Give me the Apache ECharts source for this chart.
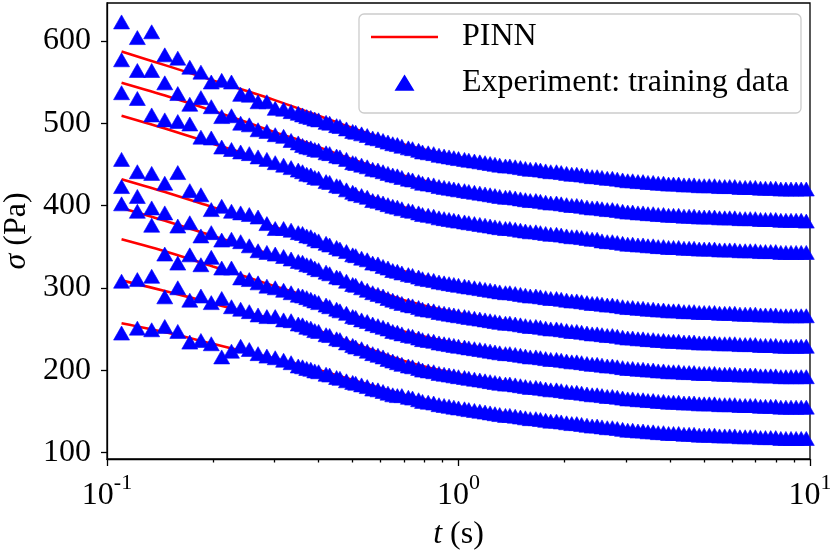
<!DOCTYPE html>
<html>
<head>
<meta charset="utf-8">
<title>PINN stress relaxation</title>
<script src="https://cdn.jsdelivr.net/npm/echarts@6/dist/echarts.min.js"></script>
<style>
  html, body { margin: 0; padding: 0; background: #fff; }
  #chart { width: 830px; height: 553px; }
</style>
</head>
<body>
<div id="chart"></div>
<script>
// measurement times (s)
const tExp = [0.11, 0.122, 0.134, 0.146, 0.159, 0.172, 0.185, 0.198, 0.212, 0.226, 0.24, 0.254, 0.269, 0.285, 0.301, 0.318, 0.334, 0.35,
  0.36, 0.37, 0.38, 0.39, 0.40, 0.42, 0.43, 0.45, 0.46, 0.48,
  0.50, 0.51, 0.53, 0.55, 0.57, 0.59, 0.61, 0.63, 0.65, 0.67,
  0.69, 0.72, 0.74, 0.77, 0.79, 0.82, 0.85, 0.88, 0.91, 0.94,
  0.97, 1.0, 1.04, 1.07, 1.11, 1.15, 1.19, 1.23, 1.27, 1.31,
  1.36, 1.4, 1.45, 1.5, 1.55, 1.6, 1.66, 1.71, 1.77, 1.83,
  1.9, 1.96, 2.03, 2.1, 2.17, 2.24, 2.32, 2.4, 2.48, 2.56,
  2.65, 2.74, 2.83, 2.93, 3.03, 3.13, 3.24, 3.35, 3.46, 3.58,
  3.7, 3.83, 3.96, 4.09, 4.23, 4.38, 4.53, 4.68, 4.84, 5.0,
  5.17, 5.35, 5.53, 5.72, 5.91, 6.11, 6.32, 6.54, 6.76, 6.99,
  7.23, 7.47, 7.73, 7.99, 8.26, 8.54, 8.83, 9.13, 9.44, 9.76];

// measured stress (Pa), one array per test
const exp1 = [623, 604, 611, 583, 579, 568, 562, 550, 552, 550, 535, 534, 526, 526, 518, 517, 514, 512,
  510, 508, 507, 505, 504, 501, 500, 497, 496, 493, 490, 489, 487, 485, 482, 481, 479, 477, 475, 474,
  472, 470, 469, 467, 465, 464, 463, 461, 460, 459, 458, 457, 456, 455, 454, 453, 452, 451, 450, 449,
  448, 448, 447, 446, 445, 444, 444, 443, 442, 441, 441, 440, 439, 438, 438, 437, 436, 435, 435, 434,
  433, 433, 432, 431, 430, 430, 429, 429, 428, 428, 427, 427, 426, 426, 426, 425, 425, 425, 424, 424,
  424, 424, 423, 423, 423, 423, 422, 422, 422, 422, 421, 421, 421, 421, 420, 420, 420, 420, 420, 420];
const exp2 = [577, 564, 564, 549, 536, 523, 531, 520, 508, 509, 500, 498, 492, 490, 486, 484, 479, 476,
  473, 471, 470, 468, 467, 464, 463, 460, 459, 456, 452, 451, 449, 447, 444, 443, 441, 439, 437, 436,
  434, 432, 431, 429, 427, 426, 425, 423, 422, 421, 420, 419, 418, 417, 416, 415, 414, 413, 412, 411,
  410, 410, 409, 408, 407, 406, 406, 405, 404, 403, 403, 402, 401, 400, 400, 399, 398, 397, 397, 396,
  395, 395, 394, 393, 392, 392, 391, 391, 390, 390, 389, 389, 388, 388, 388, 387, 387, 387, 386, 386,
  386, 386, 385, 385, 385, 385, 384, 384, 384, 384, 383, 383, 383, 383, 382, 382, 382, 382, 382, 381];
const exp3 = [537, 530, 510, 504, 502, 499, 483, 482, 471, 468, 465, 463, 459, 456, 452, 449, 446, 443,
  441, 438, 437, 434, 433, 429, 428, 424, 423, 419, 416, 414, 412, 410, 406, 405, 403, 401, 399, 398,
  396, 394, 393, 391, 389, 388, 387, 385, 384, 383, 382, 381, 380, 379, 378, 377, 376, 375, 374, 373,
  372, 372, 371, 370, 369, 368, 368, 367, 366, 365, 365, 364, 363, 362, 362, 361, 360, 359, 359, 357,
  356, 356, 355, 354, 353, 353, 352, 352, 351, 351, 350, 350, 349, 349, 349, 348, 348, 348, 347, 347,
  347, 347, 346, 346, 346, 346, 345, 345, 345, 345, 344, 344, 344, 344, 343, 343, 343, 343, 343, 343];
const exp4 = [456, 441, 439, 427, 440, 418, 413, 395, 399, 393, 391, 389, 386, 378, 372, 372, 370, 367,
  366, 363, 362, 359, 357, 354, 352, 349, 347, 344, 340, 339, 336, 334, 330, 329, 326, 324, 321, 320,
  318, 316, 315, 313, 311, 310, 309, 307, 306, 305, 304, 303, 302, 301, 300, 299, 298, 297, 296, 295,
  294, 294, 293, 292, 291, 290, 290, 289, 288, 287, 287, 286, 285, 284, 284, 283, 282, 281, 281, 280,
  279, 279, 278, 277, 276, 276, 275, 275, 274, 274, 273, 273, 272, 272, 272, 271, 271, 271, 270, 270,
  270, 270, 269, 269, 269, 269, 268, 268, 268, 268, 267, 267, 267, 267, 266, 266, 266, 266, 266, 266];
const exp5 = [423, 411, 397, 391, 375, 379, 363, 367, 358, 359, 356, 351, 345, 343, 341, 338, 335, 332,
  331, 328, 327, 324, 322, 319, 317, 313, 312, 308, 304, 303, 300, 297, 294, 292, 290, 287, 285, 283,
  281, 279, 278, 276, 274, 273, 272, 270, 269, 268, 267, 266, 265, 264, 263, 262, 261, 260, 259, 258,
  257, 257, 256, 255, 254, 253, 253, 252, 251, 250, 250, 249, 248, 247, 247, 246, 245, 244, 244, 243,
  242, 242, 241, 240, 239, 239, 238, 238, 237, 237, 236, 236, 235, 235, 235, 234, 234, 234, 233, 233,
  233, 233, 232, 232, 232, 232, 231, 231, 231, 231, 230, 230, 230, 230, 229, 229, 229, 229, 229, 229];
const exp6 = [402, 393, 376, 341, 330, 340, 328, 337, 324, 324, 312, 310, 306, 302, 300, 297, 294, 291,
  290, 288, 286, 284, 282, 279, 277, 274, 272, 269, 265, 264, 261, 259, 256, 254, 252, 250, 247, 246,
  244, 242, 241, 239, 237, 236, 235, 233, 232, 231, 230, 229, 228, 227, 226, 225, 224, 223, 222, 221,
  220, 220, 219, 218, 217, 216, 216, 215, 214, 213, 213, 212, 211, 210, 210, 209, 208, 207, 207, 206,
  205, 205, 204, 203, 202, 202, 201, 201, 200, 200, 199, 199, 198, 198, 198, 197, 197, 197, 196, 196,
  196, 196, 195, 195, 195, 195, 194, 194, 194, 194, 193, 193, 193, 193, 192, 192, 192, 192, 192, 192];
const exp7 = [308, 310, 314, 289, 300, 285, 290, 282, 287, 277, 274, 271, 267, 265, 265, 261, 260, 256,
  255, 252, 251, 248, 247, 243, 242, 238, 237, 233, 230, 228, 226, 223, 220, 218, 216, 213, 211, 209,
  207, 205, 204, 202, 200, 199, 198, 196, 195, 194, 193, 192, 191, 190, 189, 188, 187, 186, 185, 184,
  183, 183, 182, 181, 180, 179, 179, 178, 177, 176, 176, 175, 174, 173, 173, 172, 171, 170, 170, 169,
  168, 168, 167, 166, 165, 165, 164, 164, 163, 163, 162, 162, 161, 161, 161, 160, 160, 160, 159, 159,
  159, 159, 158, 158, 158, 158, 157, 157, 157, 157, 156, 156, 156, 156, 155, 155, 155, 155, 155, 155];
const exp8 = [245, 251, 249, 253, 247, 234, 236, 232, 216, 223, 229, 225, 220, 217, 215, 212, 209, 205,
  204, 202, 201, 199, 198, 195, 194, 191, 190, 187, 185, 184, 182, 180, 177, 176, 174, 172, 170, 169,
  169, 167, 166, 164, 162, 161, 160, 158, 157, 156, 155, 154, 153, 152, 151, 150, 149, 148, 147, 146,
  145, 145, 144, 143, 142, 141, 141, 140, 139, 138, 138, 137, 136, 135, 135, 134, 133, 132, 132, 131,
  130, 130, 129, 128, 127, 127, 126, 126, 125, 125, 124, 124, 123, 123, 123, 122, 122, 122, 121, 121,
  121, 121, 120, 120, 120, 120, 119, 119, 119, 119, 118, 118, 118, 118, 117, 117, 117, 117, 117, 117];

// PINN prediction
const tModel = [0.11, 0.15, 0.2, 0.25, 0.3, 0.35, 0.5, 0.7, 1, 1.5, 2, 3, 5, 7, 10];
const pinn1 = [587, 569, 552, 539, 528, 518, 494, 474, 459, 447, 440, 431, 425, 422, 420];
const pinn2 = [549, 532, 515, 501, 489, 480, 456, 436, 421, 409, 402, 393, 387, 384, 382];
const pinn3 = [509, 492, 475, 462, 450, 441, 418, 398, 382, 370, 363, 354, 348, 345, 343];
const pinn4 = [432, 415, 398, 385, 374, 365, 342, 320, 305, 293, 286, 277, 271, 268, 266];
const pinn5 = [397, 380, 363, 350, 339, 330, 306, 285, 269, 257, 250, 241, 235, 231, 229];
const pinn6 = [359, 343, 326, 313, 302, 293, 267, 247, 232, 220, 213, 204, 198, 195, 192];
const pinn7 = [309, 295, 281, 270, 262, 256, 233, 211, 195, 183, 176, 167, 161, 158, 155];
const pinn8 = [257, 245, 232, 222, 214, 207, 188, 170, 156, 145, 138, 129, 123, 120, 117];

// axis ticks
const xMinor = [0.2, 0.3, 0.4, 0.5, 0.6, 0.7, 0.8, 0.9, 2, 3, 4, 5, 6, 7, 8, 9];
const yTicks = [100, 200, 300, 400, 500, 600];

const font = 'Liberation Serif';
const chart = echarts.init(document.getElementById('chart'));

const series = [];
[pinn1, pinn2, pinn3, pinn4, pinn5, pinn6, pinn7, pinn8].forEach(vals => {
    series.push({
        name: 'PINN',
        type: 'line',
        data: tModel.map((t, i) => [t, vals[i]]),
        symbol: 'none',
        smooth: 0.3,
        lineStyle: { color: '#ff0000', width: 2.6 },
        itemStyle: { color: '#ff0000' },
        z: 2
    });
});
[exp1, exp2, exp3, exp4, exp5, exp6, exp7, exp8].forEach(vals => {
    series.push({
        name: 'Experiment: training data',
        type: 'scatter',
        data: tExp.map((t, i) => [t, vals[i]]),
        symbol: 'triangle',
        symbolSize: [16, 14],
        itemStyle: { color: '#0000ff', opacity: 1, borderColor: '#0000ff', borderWidth: 0.6 },
        z: 3
    });
});

const tickLine = { color: '#000', width: 1.3 };

chart.setOption({
    animation: false,
    textStyle: { fontFamily: font, color: '#000' },
    grid: {
        left: 107, right: 20, top: 3, bottom: 94,
        outerBoundsMode: 'none',
        containLabel: false,
        show: true, borderColor: '#000', borderWidth: 1.3
    },
    legend: {
        data: [
            { name: 'PINN', icon: 'path://M0,0 L67,0 L67,2.6 L0,2.6 Z' },
            { name: 'Experiment: training data', icon: 'path://M8,0 L16,13 L0,13 Z' }
        ],
        orient: 'vertical',
        left: 359, top: 14,
        itemWidth: 67, itemHeight: 13.3, itemGap: 14,
        symbolKeepAspect: true,
        padding: [7, 12, 14, 12],
        backgroundColor: '#fff',
        borderColor: '#cccccc', borderWidth: 1.3, borderRadius: 5,
        formatter: name => '{g|}' + name,
        textStyle: { fontFamily: font, fontSize: 32, color: '#000', rich: { g: { width: 19 } } }
    },
    xAxis: [{
        type: 'log', logBase: 10, min: 0.1, max: 10,
        axisLine: { lineStyle: tickLine },
        axisTick: { length: 7, lineStyle: tickLine },
        splitLine: { show: false },
        axisLabel: {
            margin: 13,
            hideOverlap: false,
            formatter: v => '{b|10}{s|' + Math.round(Math.log10(v)) + '}',
            rich: {
                b: { fontFamily: font, fontSize: 32, color: '#000', padding: [8, 0, 0, 0], verticalAlign: 'bottom' },
                s: { fontFamily: font, fontSize: 22, color: '#000', verticalAlign: 'top' }
            }
        },
        name: '{i|t} (s)', nameLocation: 'middle', nameGap: 60,
        nameTextStyle: {
            fontFamily: font, fontSize: 32, color: '#000',
            rich: { i: { fontFamily: font, fontSize: 32, fontStyle: 'italic', color: '#000' } }
        }
    }, {
        type: 'log', logBase: 10, min: 0.1, max: 10, position: 'bottom',
        axisLine: { show: false },
        axisLabel: { show: false },
        splitLine: { show: false },
        axisTick: { customValues: xMinor, length: 3.5, lineStyle: tickLine }
    }],
    yAxis: {
        type: 'value', min: 92, max: 646,
        axisLine: { show: true, lineStyle: tickLine },
        axisTick: { show: true, customValues: yTicks, length: 6, lineStyle: tickLine },
        axisLabel: { customValues: yTicks, margin: 16, fontFamily: font, fontSize: 32, color: '#000' },
        splitLine: { show: false },
        name: '{i|σ} (Pa)', nameLocation: 'middle', nameGap: 72,
        nameTextStyle: {
            fontFamily: font, fontSize: 32, color: '#000',
            rich: { i: { fontFamily: font, fontSize: 32, fontStyle: 'italic', color: '#000' } }
        }
    },
    series: series
});
</script>
</body>
</html>
